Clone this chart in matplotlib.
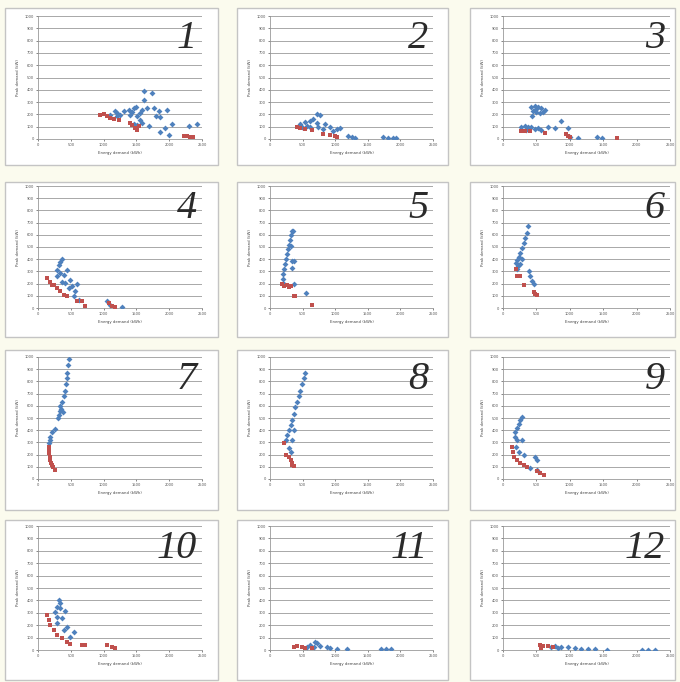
import matplotlib
matplotlib.use("Agg")
import matplotlib.pyplot as plt
from matplotlib.patches import Rectangle

panel_labels = ["1", "2", "3", "4", "5", "6", "7", "8", "9", "10", "11", "12"]
x_ticks = [0, 500, 1000, 1500, 2000, 2500]
y_ticks = [0, 100, 200, 300, 400, 500, 600, 700, 800, 900, 1000]
x_title = "Energy demand (kWh)"
y_title = "Peak demand (kW)"

blue_x = [
    [1611, 1738, 1611, 1499, 1661, 1763, 1839, 1966, 1803, 1864, 1687, 1864, 1991, 2042, 1941, 2296, 2423,
     1102, 1204, 1306, 1382, 1458, 1407, 1509, 1560, 1585, 1509, 1458, 1204, 1255, 1179, 1433, 1560, 1585],
    [714, 765, 663, 612, 536, 459, 561, 714, 842, 918, 1020, 1071, 740, 612, 485, 1199, 1250, 1301,
     1734, 1811, 1887, 1938, 816, 969],
    [425, 475, 525, 575, 625, 450, 500, 550, 435, 600, 500, 275, 325, 375, 425, 475, 525, 575, 350,
     675, 775, 865, 975, 1000, 1125, 1400, 1475],
    [340, 366, 315, 290, 340, 391, 290, 442, 366, 417, 493, 467, 518, 594, 569, 544, 620, 1052, 1102, 1280],
    [340, 325, 305, 290, 274, 254, 239, 224, 213, 203, 198, 315, 340, 366, 340, 213, 366, 559, 356],
    [374, 354, 334, 309, 284, 259, 234, 209, 194, 224, 259, 383, 408, 433, 458, 209, 284],
    [467, 457, 447, 442, 427, 406, 391, 366, 340, 330, 315, 300, 264, 213, 188, 178, 163, 381, 350],
    [544, 518, 493, 467, 442, 417, 391, 366, 340, 315, 290, 264, 239, 366, 340, 290, 315],
    [284, 259, 234, 209, 184, 174, 209, 284, 194, 234, 309, 483, 508, 408, 508],
    [315, 340, 290, 264, 340, 417, 366, 290, 442, 391, 544, 493, 290],
    [693, 718, 617, 566, 769, 870, 921, 1022, 1174, 1705, 1781, 1857, 668],
    [775, 875, 975, 1075, 1175, 1275, 1375, 1550, 2075, 2175, 2275, 825, 725],
]
blue_y = [
    [393, 377, 318, 259, 251, 251, 229, 237, 183, 178, 102, 54, 35, 124, 89, 102, 124,
     197, 210, 224, 237, 251, 197, 183, 156, 129, 116, 124, 183, 197, 224, 216, 210, 237],
    [204, 198, 163, 149, 136, 122, 109, 128, 122, 101, 82, 90, 98, 101, 101, 27, 14, 8,
     19, 8, 8, 8, 82, 68],
    [258, 272, 264, 253, 236, 231, 217, 209, 190, 217, 245, 95, 109, 101, 95, 82, 90, 73, 73,
     101, 90, 149, 90, 14, 8, 14, 8],
    [380, 402, 353, 313, 285, 269, 266, 315, 217, 204, 231, 163, 177, 198, 136, 95, 68, 54, 27, 8],
    [628, 601, 561, 520, 480, 439, 399, 358, 318, 278, 237, 507, 385, 385, 331, 197, 197, 124, 628],
    [674, 614, 574, 534, 493, 453, 420, 393, 372, 345, 358, 305, 264, 224, 197, 318, 399],
    [986, 938, 871, 830, 776, 722, 682, 628, 601, 561, 528, 501, 412, 385, 345, 318, 291, 547, 574],
    [870, 830, 776, 722, 682, 628, 587, 534, 480, 439, 399, 358, 318, 399, 318, 251, 224],
    [512, 485, 453, 420, 385, 345, 318, 318, 264, 224, 197, 183, 156, 89, 75],
    [403, 376, 349, 309, 336, 317, 255, 269, 188, 161, 148, 108, 215],
    [67, 54, 40, 27, 32, 27, 13, 5, 5, 5, 5, 5, 27],
    [32, 27, 22, 13, 8, 5, 8, 0, 0, 0, 0, 13, 27],
]
red_x = [
    [950, 1001, 1052, 1102, 1229, 1153, 1407, 1433, 1483, 1509, 1534, 2220, 2271, 2322, 2362],
    [408, 459, 536, 638, 816, 918, 994, 1020],
    [275, 325, 400, 625, 950, 975, 1000, 1700],
    [137, 188, 239, 290, 340, 391, 442, 213, 594, 671, 721, 1077, 1128, 1179],
    [188, 213, 264, 290, 315, 366, 391, 645],
    [194, 209, 259, 309, 458, 483, 508],
    [163, 163, 173, 178, 188, 198, 213, 264, 229],
    [213, 239, 290, 315, 340, 366, 330],
    [134, 144, 159, 209, 259, 309, 359, 508, 558, 608],
    [137, 163, 188, 239, 290, 366, 442, 493, 671, 721, 1052, 1128, 1179],
    [364, 415, 491, 541, 642],
    [550, 600, 675, 750, 575],
]
red_y = [
    [197, 202, 183, 170, 156, 162, 129, 116, 89, 75, 108, 27, 22, 16, 16],
    [95, 90, 82, 76, 41, 33, 27, 14],
    [68, 62, 62, 46, 41, 27, 19, 5],
    [245, 217, 190, 163, 136, 109, 95, 190, 54, 54, 19, 41, 14, 8],
    [197, 178, 189, 170, 183, 97, 102, 27],
    [318, 264, 259, 189, 135, 116, 108],
    [264, 237, 210, 183, 156, 129, 116, 75, 102],
    [291, 197, 183, 156, 129, 108, 116],
    [264, 224, 183, 156, 135, 116, 97, 62, 49, 35],
    [282, 242, 202, 161, 121, 94, 67, 48, 40, 38, 40, 22, 19],
    [27, 32, 27, 19, 13],
    [40, 35, 32, 27, 19],
]

W, H = 680, 682
fig = plt.figure(figsize=(W / 100, H / 100), dpi=100)
fig.patch.set_facecolor("#fbfbee")

# pixel layout, measured from the top-left corner
ax_cols = [(38, 202), (270, 433), (503, 670)]
ax_rows = [(16, 139), (186, 308), (357, 479), (526, 650)]
box_cols = [(5, 218), (237, 448), (470, 675)]
box_rows = [(8, 165), (182, 337), (350, 510), (520, 680)]

for i in range(12):
    r, c = divmod(i, 3)
    bx0, bx1 = box_cols[c]
    by0, by1 = box_rows[r]
    fig.add_artist(Rectangle((bx0 / W, 1 - by1 / H), (bx1 - bx0) / W, (by1 - by0) / H,
                             transform=fig.transFigure, facecolor="white",
                             edgecolor="#c4c4c4", linewidth=1.0, zorder=0))
    x0, x1 = ax_cols[c]
    y0, y1 = ax_rows[r]
    ax = fig.add_axes([x0 / W, 1 - y1 / H, (x1 - x0) / W, (y1 - y0) / H])
    ax.set_facecolor("none")
    ax.set_xlim(0, 2500)
    ax.set_ylim(0, 1000)
    ax.set_xticks(x_ticks)
    ax.set_yticks(y_ticks)
    ax.tick_params(labelsize=2.6, colors="#555555", length=1.5, width=0.5, pad=1.5)
    ax.grid(axis="y", color="#a8a8a8", linewidth=0.7)
    ax.set_axisbelow(True)
    for s in ["top", "right"]:
        ax.spines[s].set_visible(False)
    for s in ["left", "bottom"]:
        ax.spines[s].set_color("#999999")
        ax.spines[s].set_linewidth(0.6)
    ax.set_xlabel(x_title, fontsize=2.8, color="#444444", labelpad=3)
    ax.set_ylabel(y_title, fontsize=2.8, color="#444444", labelpad=3)
    ax.scatter(blue_x[i], blue_y[i], marker="D", s=9, color="#4f81bd", linewidths=0, zorder=3)
    ax.scatter(red_x[i], red_y[i], marker="s", s=9, color="#c0504d", linewidths=0, zorder=3)
    ax.text(0.97, 0.97, panel_labels[i], transform=ax.transAxes, ha="right", va="top",
            fontsize=29, fontstyle="italic", family="Liberation Serif", color="#2a2a2a")

fig.savefig("out.png", dpi=100, facecolor=fig.get_facecolor())
